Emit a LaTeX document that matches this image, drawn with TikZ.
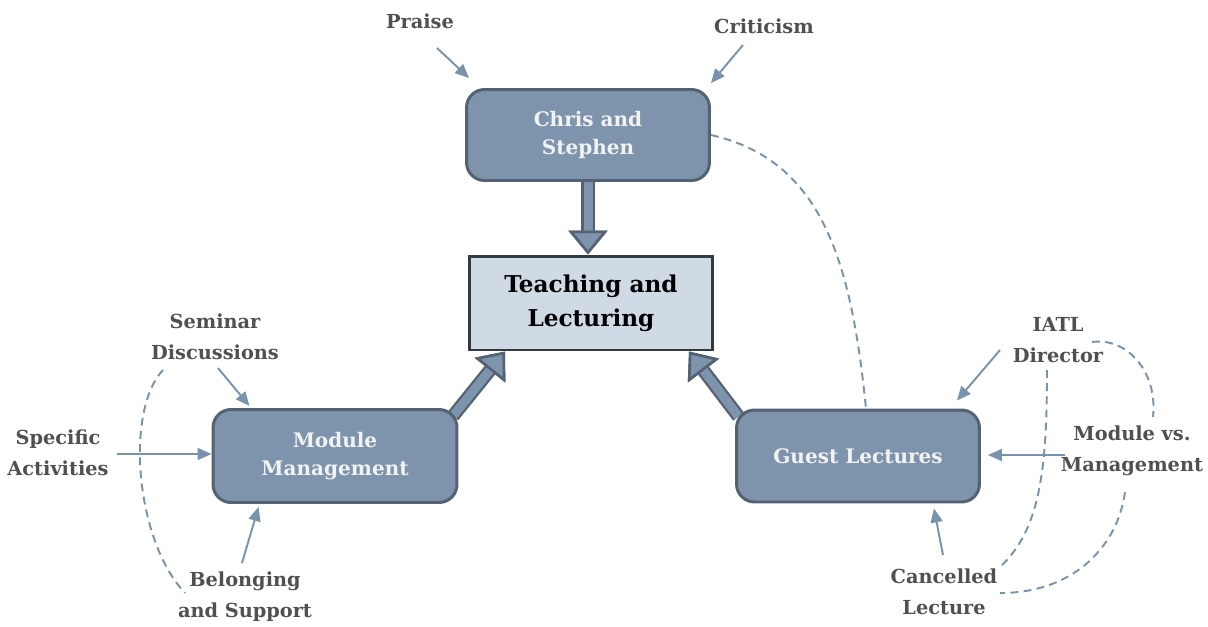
\documentclass[tikz,border=0pt]{standalone}
\usepackage{fontspec}
\setmainfont{DejaVu Serif}
\usetikzlibrary{arrows.meta, backgrounds}
\definecolor{boxfill}{RGB}{126,148,172}
\definecolor{boxline}{RGB}{84,98,115}
\definecolor{corefill}{RGB}{208,218,228}
\definecolor{coreline}{RGB}{50,58,66}
\definecolor{labeltext}{RGB}{80,80,80}
\definecolor{linkcol}{RGB}{122,147,173}
\tikzstyle{topic} = [
	rectangle,
	rounded corners=0.36cm,
	minimum width=4.86cm,
	minimum height=1.84cm,
	align=center,
	draw=boxline,
	line width=1.7pt,
	fill=boxfill,
	text=white!95!black,
	font=\bfseries\fontsize{11.4}{16.2}\selectfont
]
\tikzstyle{core} = [
	rectangle,
	minimum width=4.86cm,
	minimum height=1.88cm,
	align=center,
	draw=coreline,
	line width=1.7pt,
	fill=corefill,
	text=black,
	font=\bfseries\fontsize{13.2}{19.5}\selectfont
]
\tikzstyle{factor} = [align=center, text=labeltext, inner sep=1pt, font=\bfseries\fontsize{11}{17.6}\selectfont]
\tikzstyle{feed} = [line width=1.1pt, draw=linkcol, -{Triangle[width=0.24cm, length=0.28cm]}]
\tikzstyle{link} = [line width=1.1pt, draw=linkcol, dash pattern=on 4.5pt off 3pt]
\tikzstyle{bigarrow} = [
	line width=0.18cm,
	draw=boxfill,
	-{Triangle[width=0.78cm, length=0.48cm, line width=1.5pt, color=boxline, fill=boxfill]},
	preaction={draw=boxline, line width=0.27cm, -{Triangle[width=0.78cm, length=0.48cm, line width=1.5pt, color=boxline]}}
]

\begin{document}
\begin{tikzpicture}[x=0.02cm, y=-0.02cm]
            \useasboundingbox (0,0) rectangle (1208,626);
            % main boxes
            \node (chris) [topic, minimum height=1.82cm] at (588,135) {Chris and\\Stephen};
            \node (teach) [core] at (591,303) {Teaching and\\Lecturing};
            \node (modman) [topic, minimum width=4.88cm, minimum height=1.86cm] at (335,456) {Module\\Management};
            \node (guest) [topic] at (858,456) {Guest Lectures};
            % factors round them
            \node (praise) [factor] at (420,21) {Praise};
            \node (crit) [factor] at (764,26) {Criticism};
            \node (sem) [factor] at (215,337) {Seminar\\Discussions};
            \node (spec) [factor] at (58,453) {Specific\\Activities};
            \node (belong) [factor] at (245,597) {Belonging\\and Support};
            \node (iatl) [factor] at (1058,340) {IATL\\Director};
            \node (modvs) [factor] at (1132,451) {Module vs.\\Management};
            \node (cancel) [factor] at (944,592) {Cancelled\\Lecture};
            \begin{pgfonlayer}{background}
            \draw [bigarrow] (chris.center) -- (chris.center |- teach.north);
            \draw [bigarrow] ([shift={(-5.5,8)}]modman.north east) -- ([shift={(37,0)}]teach.south west);
            \draw [bigarrow] ([shift={(3.5,8)}]guest.north west) -- ([shift={(-25,0)}]teach.south east);
            \end{pgfonlayer}
            \draw [feed] ([shift={(17,27)}]praise.center) -- ([shift={(4,-10)}]chris.north west);
            \draw [feed] ([shift={(-21,19)}]crit.center) -- ([shift={(0,-5)}]chris.north east);
            \draw [feed] ([shift={(3,31)}]sem.center) -- ([shift={(38,-2)}]modman.north west);
            \draw [feed] ([shift={(59,1)}]spec.center) -- ([shift={(0,-2)}]modman.west);
            \draw [feed] ([shift={(-3,-34)}]belong.center) -- ([shift={(47,3)}]modman.south west);
            \draw [feed] ([shift={(-58,10)}]iatl.center) -- ([shift={(-24,-8)}]guest.north east);
            \draw [feed] ([shift={(-67,4)}]modvs.center) -- ([shift={(7,-1)}]guest.east);
            \draw [feed] ([shift={(-1,-37)}]cancel.center) -- ([shift={(-47,5)}]guest.south east);
            \draw [link] (chris.east) .. controls +(110,25) and +(-15,-150) .. ([shift={(8,0)}]guest.north);
            \draw [link] ([shift={(-52,33)}]sem.center) .. controls +(-38,40) and +(-50,-53) .. ([shift={(-60,-4)}]belong.center);
            \draw [link] ([shift={(34,2)}]iatl.center) .. controls +(35,-5) and +(5,-45) .. ([shift={(21,-34)}]modvs.center);
            \draw [link] ([shift={(-11,30)}]iatl.center) .. controls +(0,100) and +(40,-37) .. ([shift={(56,-25)}]cancel.center);
            \draw [link] ([shift={(-7,41)}]modvs.center) .. controls +(-7,53) and +(75,0) .. ([shift={(56,1)}]cancel.center);
          \end{tikzpicture}
\end{document}
